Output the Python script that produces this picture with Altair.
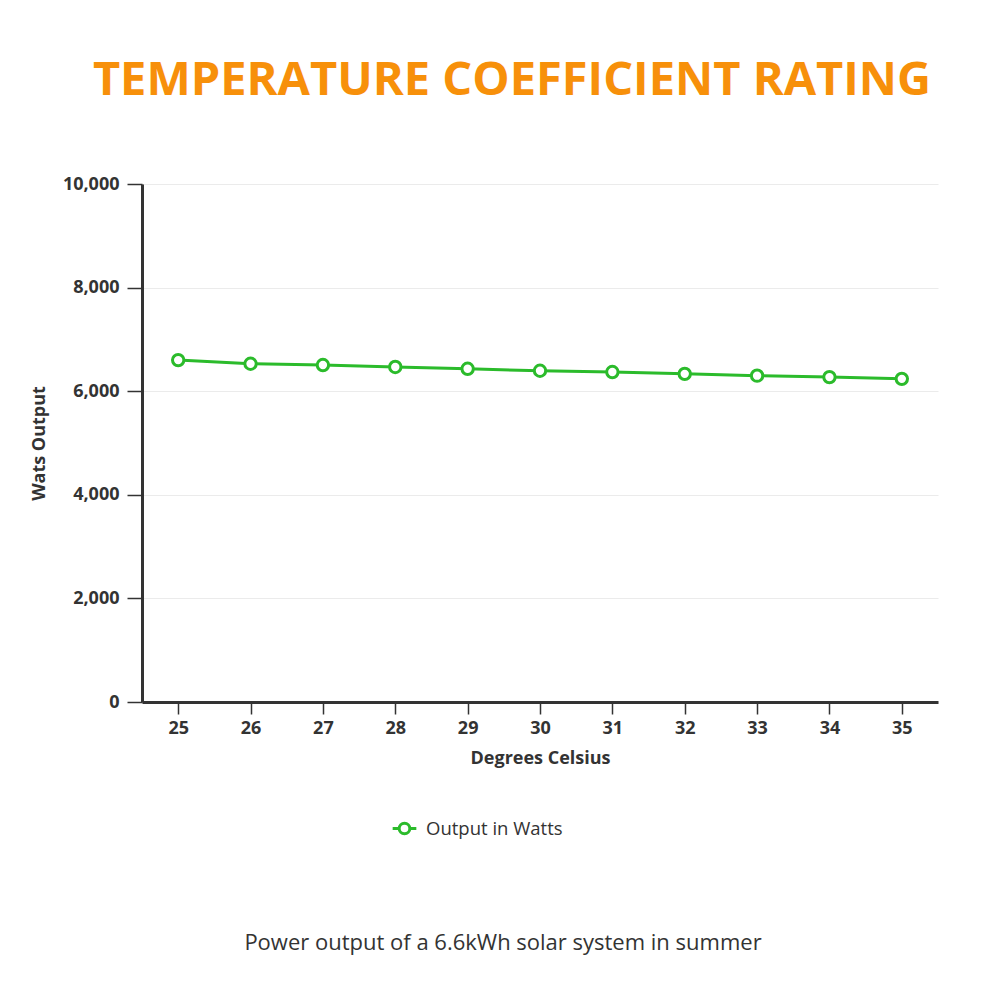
import altair as alt
import pandas as pd

temps = [25, 26, 27, 28, 29, 30, 31, 32, 33, 34, 35]
watts = [6600, 6530, 6505, 6468, 6432, 6395, 6370, 6335, 6300, 6272, 6238]
series = ["Output in Watts"] * len(temps)

df = pd.DataFrame({"temp": temps, "watts": watts, "series": series})

GREEN = "#2BBB2B"
ORANGE = "#F7900A"
DARK = "#333333"
FONT = "Open Sans"

legend_symbol = "M-1,0 L-0.45,0 M0.45,0 L1,0 M-0.45,0 A0.45,0.45 0 1,1 0.45,0 A0.45,0.45 0 1,1 -0.45,0 Z"

x_enc = alt.X("temp:O", title="Degrees Celsius",
              scale=alt.Scale(type="point", padding=0.5),
              axis=alt.Axis(labelAngle=0, grid=False, tickSize=12, tickWidth=1.5,
                            tickColor=DARK, labelPadding=5, titlePadding=12))
y_enc = alt.Y("watts:Q", title="Wats Output",
              scale=alt.Scale(domain=[0, 10000], nice=False),
              axis=alt.Axis(values=[0, 2000, 4000, 6000, 8000, 10000],
                            format=",.0f", formatType="number",
                            tickSize=15, tickWidth=1.5, tickColor=DARK,
                            labelPadding=8, titlePadding=14, grid=True,
                            gridColor="#EBEBEB", gridWidth=1))

base = alt.Chart(df)

line = base.mark_line(strokeWidth=3).encode(
    x=x_enc,
    y=y_enc,
    color=alt.Color("series:N", scale=alt.Scale(range=[GREEN]),
                    legend=alt.Legend(title=None, orient="none", legendX=249, legendY=631,
                                      symbolType=legend_symbol, symbolSize=560,
                                      symbolStrokeWidth=3, symbolFillColor="white",
                                      symbolStrokeColor=GREEN,
                                      labelFont=FONT, labelFontSize=18.5, labelColor=DARK,
                                      labelOffset=8)),
)

points = base.mark_point(filled=True, fill="white", size=130, strokeWidth=3, opacity=1).encode(
    x=x_enc,
    y=y_enc,
    stroke=alt.Stroke("series:N", scale=alt.Scale(range=[GREEN]), legend=None),
)

caption_df = pd.DataFrame({"t": ["Power output of a 6.6kWh solar system in summer"]})
caption = alt.Chart(caption_df).mark_text(
    font=FONT, fontSize=22, color=DARK, baseline="middle", align="center"
).encode(x=alt.value(361), y=alt.value(759), text="t:N")

chart = alt.layer(line, points, caption).properties(
    width=796,
    height=518,
    autosize=alt.AutoSizeParams(type="none"),
    padding={"left": 134, "top": 176, "right": 46, "bottom": 290},
    title=alt.TitleParams(
        "TEMPERATURE COEFFICIENT RATING",
        font=FONT, fontSize=47, fontWeight="bold", color=ORANGE,
        anchor="middle", offset=70, dx=-28,
    ),
).configure_view(stroke=None).configure_axis(
    labelFont=FONT, labelFontSize=18, labelFontWeight="bold", labelColor=DARK,
    titleFont=FONT, titleFontSize=18, titleFontWeight="bold", titleColor=DARK,
    domainColor=DARK, domainWidth=3,
)

chart.save("out.html", embed_options={"renderer": "svg", "actions": False})
